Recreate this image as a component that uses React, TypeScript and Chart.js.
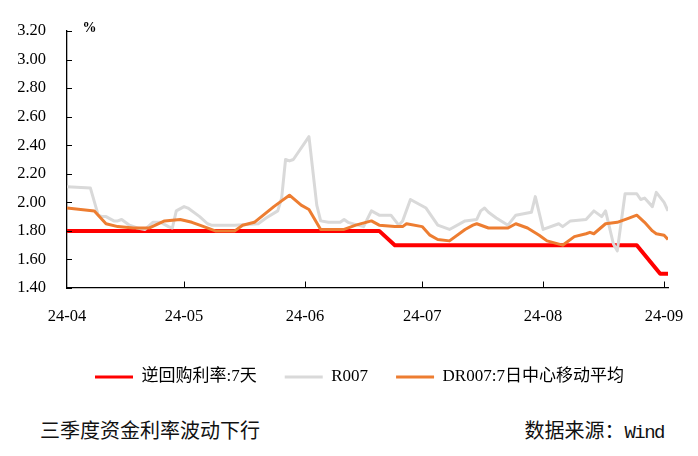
import { useEffect, useRef } from "react";
import { Chart, registerables } from "chart.js";
import type { Plugin } from "chart.js";

Chart.register(...registerables);

// x positions are days counted from 2024-04-01
const monthTickDays = [0, 30, 61, 91, 122, 153];
const monthTickLabels = ["24-04", "24-05", "24-06", "24-07", "24-08", "24-09"];

const reverseRepoDays = [0, 80, 84, 146, 152, 154];
const reverseRepoRate = [1.8, 1.8, 1.7, 1.7, 1.5, 1.5];

const r007Days = [
  0, 6, 8, 9, 10, 12, 13, 14, 16, 18, 20, 22, 24, 26, 27, 28, 30, 31, 34, 36, 37, 43, 49, 51, 54,
  55, 56, 57, 58, 62, 64, 65, 67, 70, 71, 72, 76, 78, 80, 83, 85, 86, 88, 92, 95, 98, 102, 105,
  106, 107, 108, 110, 113, 115, 119, 120, 122, 126, 127, 129, 133, 135, 137, 138, 140, 141, 143,
  146, 147, 148, 150, 151, 153, 154
];
const r007 = [
  2.11, 2.1, 1.91, 1.9, 1.9, 1.87, 1.87, 1.88, 1.84, 1.82, 1.81, 1.86, 1.86, 1.83, 1.82, 1.94,
  1.97, 1.96, 1.9, 1.85, 1.84, 1.84, 1.85, 1.89, 1.94, 2.03, 2.3, 2.29, 2.3, 2.46, 1.98, 1.87,
  1.86, 1.86, 1.88, 1.86, 1.83, 1.94, 1.91, 1.91, 1.84, 1.87, 2.02, 1.96, 1.84, 1.81, 1.87, 1.88,
  1.94, 1.96, 1.93, 1.89, 1.84, 1.91, 1.93, 2.04, 1.81, 1.85, 1.83, 1.87, 1.88, 1.94, 1.9, 1.94,
  1.71, 1.66, 2.06, 2.06, 2.02, 2.03, 1.97, 2.07, 2.0, 1.94
];

const dr007Days = [
  0, 7, 10, 13, 17, 21, 25, 29, 32, 34, 38, 43, 45, 48, 53, 55, 57, 60, 62, 65, 68, 71, 74, 78,
  80, 84, 86, 87, 91, 93, 95, 98, 102, 104, 105, 108, 113, 115, 118, 121, 123, 127, 130, 133, 134,
  135, 138, 141, 144, 146, 148, 150, 151, 153, 154
];
const dr007 = [
  1.96, 1.94, 1.85, 1.83, 1.82, 1.82, 1.87, 1.88, 1.86, 1.84, 1.8, 1.8, 1.84, 1.86, 1.97, 2.01,
  2.05, 1.98, 1.95, 1.81, 1.81, 1.81, 1.84, 1.87, 1.84, 1.83, 1.83, 1.85, 1.83, 1.77, 1.74, 1.73,
  1.81, 1.84, 1.85, 1.82, 1.82, 1.85, 1.82, 1.77, 1.73, 1.7, 1.76, 1.78, 1.79, 1.78, 1.85, 1.86,
  1.89, 1.91, 1.86, 1.8, 1.78, 1.77, 1.74
];

const serifFont = "'Liberation Serif', 'Noto Sans CJK SC'";

function toPoints(days: number[], values: number[]) {
  return days.map((day, i) => ({ x: day, y: values[i] }));
}

// Excel-style tick marks pointing into the plot, plus the "%" unit label
const innerTicks: Plugin<"line"> = {
  id: "innerTicks",
  afterDraw(chart) {
    const { ctx, chartArea, scales } = chart;
    ctx.save();
    ctx.strokeStyle = "#000";
    ctx.lineWidth = 1;
    ctx.beginPath();
    scales.y.ticks.forEach((tick) => {
      const py = Math.round(scales.y.getPixelForValue(tick.value)) + 0.5;
      ctx.moveTo(chartArea.left, py);
      ctx.lineTo(chartArea.left + 5, py);
    });
    scales.x.ticks.forEach((tick) => {
      if (tick.value === 0) return;
      const px = Math.round(scales.x.getPixelForValue(tick.value)) + 0.5;
      ctx.moveTo(px, chartArea.bottom);
      ctx.lineTo(px, chartArea.bottom - 6.5);
    });
    ctx.stroke();

    ctx.fillStyle = "#000";
    ctx.font = `bold 14px ${serifFont}`;
    ctx.textBaseline = "alphabetic";
    ctx.fillText("%", chartArea.left + 15.5, chartArea.top + 0.5);
    ctx.restore();
  }
};

export default function App() {
  const canvasRef = useRef<HTMLCanvasElement | null>(null);

  useEffect(() => {
    if (!canvasRef.current) {
      return undefined;
    }

    const chart = new Chart(canvasRef.current, {
      type: "line",
      data: {
        datasets: [
          {
            label: "逆回购利率:7天",
            data: toPoints(reverseRepoDays, reverseRepoRate),
            borderColor: "#FF0000",
            backgroundColor: "#FF0000",
            borderWidth: 4,
            order: 3
          },
          {
            label: "R007",
            data: toPoints(r007Days, r007),
            borderColor: "#D9D9D9",
            backgroundColor: "#D9D9D9",
            borderWidth: 3,
            order: 2
          },
          {
            label: "DR007:7日中心移动平均",
            data: toPoints(dr007Days, dr007),
            borderColor: "#ED7D31",
            backgroundColor: "#ED7D31",
            borderWidth: 3,
            order: 1
          }
        ]
      },
      options: {
        animation: false,
        responsive: true,
        maintainAspectRatio: false,
        elements: {
          point: { radius: 0, hoverRadius: 0 },
          line: { tension: 0, borderJoinStyle: "round", fill: false }
        },
        layout: {
          padding: { left: 0, right: 30, top: 31, bottom: 4.5 }
        },
        plugins: {
          tooltip: { enabled: false },
          legend: {
            position: "bottom",
            align: "start",
            fullSize: false,
            labels: {
              color: "#000",
              boxWidth: 38,
              boxHeight: 3,
              padding: 28,
              font: { family: serifFont, size: 17 },
              generateLabels: (c) =>
                c.data.datasets.map((ds, i) => ({
                  text: String(ds.label),
                  fillStyle: ds.borderColor as string,
                  strokeStyle: ds.borderColor as string,
                  lineWidth: 0,
                  hidden: false,
                  datasetIndex: i,
                  fontColor: "#000"
                }))
            }
          }
        },
        scales: {
          x: {
            type: "linear",
            min: 0,
            max: 154,
            grid: { display: false },
            border: { display: true, color: "#000", width: 1.3 },
            afterBuildTicks: (scale) => {
              scale.ticks = monthTickDays.map((value) => ({ value }));
            },
            afterFit: (scale) => {
              scale.height = 52.5;
            },
            ticks: {
              autoSkip: false,
              maxRotation: 0,
              minRotation: 0,
              padding: 11,
              color: "#000",
              font: { family: serifFont, size: 16.5 },
              callback: (value) => monthTickLabels[monthTickDays.indexOf(Number(value))] ?? ""
            }
          },
          y: {
            min: 1.4,
            max: 3.2,
            grid: { display: false },
            border: { display: true, color: "#000", width: 1.3 },
            afterFit: (scale) => {
              scale.width = 67;
            },
            ticks: {
              stepSize: 0.2,
              padding: 13,
              color: "#000",
              font: { family: serifFont, size: 16.5 },
              callback: (value) => Number(value).toFixed(2)
            }
          }
        }
      },
      plugins: [innerTicks]
    });

    return () => chart.destroy();
  }, []);

  return (
    <div style={{ position: "fixed", left: 0, top: 0, width: 698, height: 456, background: "#fff" }}>
      <div style={{ position: "absolute", left: 0, top: 0, width: 698, height: 400 }}>
        <canvas ref={canvasRef} />
      </div>
      <div
        style={{
          position: "absolute",
          left: 40,
          top: 418,
          fontFamily: "'Noto Sans CJK SC'",
          fontSize: 20,
          lineHeight: "24px",
          color: "#111",
          whiteSpace: "nowrap"
        }}
      >
        三季度资金利率波动下行
      </div>
      <div
        style={{
          position: "absolute",
          right: 34,
          top: 418,
          fontFamily: "'Noto Sans CJK SC'",
          fontSize: 20,
          lineHeight: "24px",
          color: "#111",
          whiteSpace: "nowrap"
        }}
      >
        数据来源：
        <span style={{ fontFamily: "'Liberation Mono'", fontSize: 19, letterSpacing: -1.5 }}>Wind</span>
      </div>
    </div>
  );
}
